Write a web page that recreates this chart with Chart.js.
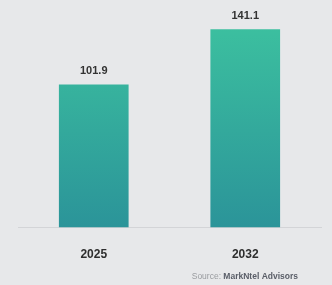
<!DOCTYPE html>
<html><head><meta charset="utf-8">
<script src="https://cdn.jsdelivr.net/npm/chart.js@4.4.0/dist/chart.umd.min.js"></script>
<style>html,body{margin:0;padding:0;background:#e7e8ea;}#wrap{width:332px;height:285px;position:relative;}</style>
</head><body><div id="wrap"><canvas id="c" width="332" height="285"></canvas></div>
<script>
const categories = ['2025', '2032'];
const values = [101.9, 141.1];
const sourceLabel = 'Source: ';
const sourceName = 'MarkNtel Advisors';

function barGradient(ctx) {
  const el = ctx.element;
  const chart = ctx.chart;
  const area = chart.chartArea;
  if (!area) return '#34ae9e';
  let top = el && el.y !== undefined ? el.y : area.top;
  let bottom = el && el.base !== undefined ? el.base : area.bottom;
  if (!isFinite(top) || !isFinite(bottom) || top === bottom) { top = area.top; bottom = area.bottom; }
  const g = chart.ctx.createLinearGradient(0, top, 0, bottom);
  g.addColorStop(0, '#3ec5a0');
  g.addColorStop(1, '#2b9499');
  return g;
}

const labelPlugin = {
  id: 'valueLabels',
  afterDatasetsDraw(chart) {
    const c = chart.ctx;
    const meta = chart.getDatasetMeta(0);
    c.save();
    c.font = 'bold 11px "Liberation Sans", Arial, sans-serif';
    c.fillStyle = '#333';
    c.textAlign = 'center';
    c.textBaseline = 'middle';
    meta.data.forEach((bar, i) => {
      c.fillText(values[i].toFixed(1), bar.x, bar.y - 13);
    });
    // source
    const fs = 8.5;
    c.font = fs + 'px "Liberation Sans", Arial, sans-serif';
    c.textAlign = 'left';
    const w1 = c.measureText(sourceLabel).width;
    c.font = 'bold ' + fs + 'px "Liberation Sans", Arial, sans-serif';
    const w2 = c.measureText(sourceName).width;
    const xEnd = 298;
    const x0 = xEnd - w1 - w2;
    c.font = fs + 'px "Liberation Sans", Arial, sans-serif';
    c.fillStyle = '#9a9ca0';
    c.fillText(sourceLabel, x0, 277);
    c.font = 'bold ' + fs + 'px "Liberation Sans", Arial, sans-serif';
    c.fillStyle = '#5a5e68';
    c.fillText(sourceName, x0 + w1, 277);
    c.restore();
  }
};

new Chart(document.getElementById('c'), {
  type: 'bar',
  data: {
    labels: categories,
    datasets: [{
      data: values,
      backgroundColor: barGradient,
      borderWidth: 0,
      barPercentage: 1,
      categoryPercentage: 0.46
    }]
  },
  options: {
    responsive: false,
    animation: false,
    events: [],
    layout: { padding: { left: 18, right: 11, top: 0, bottom: 3 } },
    plugins: { legend: { display: false }, tooltip: { enabled: false } },
    scales: {
      x: {
        grid: { display: false, drawTicks: false },
        border: { display: true, color: '#d3d4d7', width: 1 },
        ticks: { padding: 20, color: '#2e2e2e', font: { family: '"Liberation Sans", Arial, sans-serif', size: 12, weight: 'bold' } }
      },
      y: { display: false, min: 0, max: 162 }
    }
  },
  plugins: [labelPlugin]
});
</script></body></html>
